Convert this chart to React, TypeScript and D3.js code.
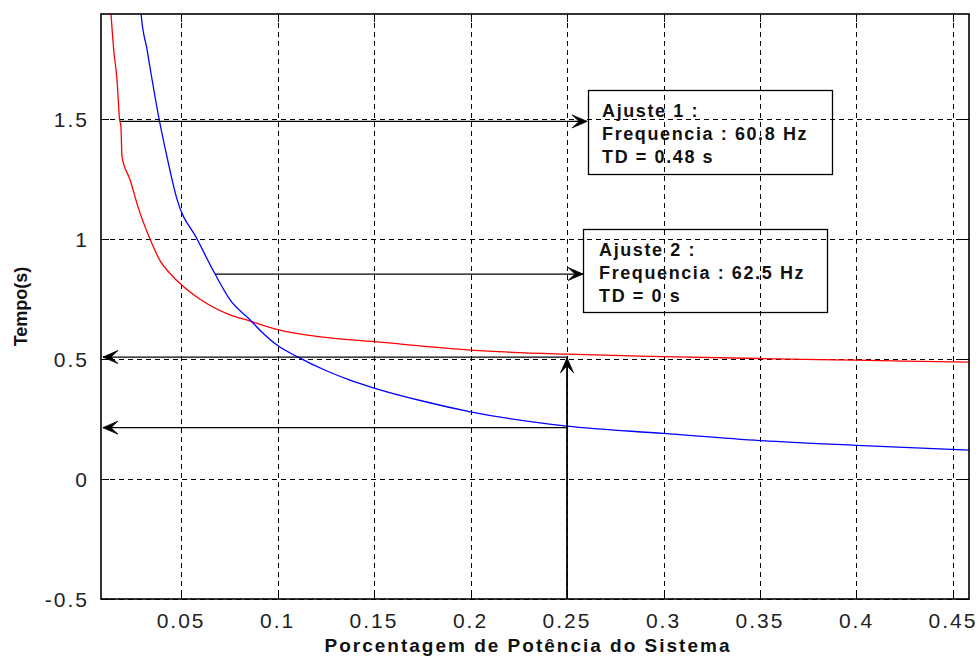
import React from "react";
import * as d3 from "d3";

// ---- data ----
const xTicks = [0.05, 0.1, 0.15, 0.2, 0.25, 0.3, 0.35, 0.4, 0.45];
const xTickLabels = ["0.05", "0.1", "0.15", "0.2", "0.25", "0.3", "0.35", "0.4", "0.45"];
const yTicks = [-0.5, 0, 0.5, 1, 1.5];
const yTickLabels = ["-0.5", "0", "0.5", "1", "1.5"];
const xLimits = [0.0085, 0.4583];
const yLimits = [-0.5, 1.9375];

// Ajuste 1 (red): Frequencia 60.8 Hz, TD = 0.48 s
const redX = [0.0132, 0.0137, 0.0151, 0.0168, 0.0181, 0.0188, 0.0194, 0.0236, 0.0277, 0.0339, 0.0391, 0.045, 0.05, 0.06, 0.075, 0.085, 0.1, 0.125, 0.15, 0.2, 0.25, 0.3, 0.35, 0.4, 0.4583];
const redY = [2.0, 1.9375, 1.7875, 1.6625, 1.5, 1.47, 1.342, 1.246, 1.133, 1.0, 0.91, 0.85, 0.81, 0.748, 0.685, 0.66, 0.622, 0.59, 0.572, 0.537, 0.52, 0.51, 0.502, 0.495, 0.487];

// Ajuste 2 (blue): Frequencia 62.5 Hz, TD = 0 s
const blueX = [0.0288, 0.0293, 0.0324, 0.035, 0.0386, 0.0427, 0.0479, 0.0583, 0.0676, 0.0754, 0.0858, 0.0909, 0.0997, 0.1106, 0.125, 0.1375, 0.15, 0.175, 0.2, 0.25, 0.3, 0.35, 0.4, 0.4583];
const blueY = [2.0, 1.9375, 1.7875, 1.6625, 1.5, 1.342, 1.165, 1.0, 0.854, 0.746, 0.6625, 0.62, 0.558, 0.508, 0.452, 0.412, 0.379, 0.325, 0.28, 0.22, 0.19, 0.16, 0.14, 0.12];

// annotation boxes (data coords: left, top, right, bottom)
const box1 = [0.2609, 1.621, 0.3873, 1.271];
const box1Lines = ["Ajuste 1 :", "Frequencia : 60.8 Hz", "TD = 0.48 s"];
const box2 = [0.2583, 1.0417, 0.3847, 0.696];
const box2Lines = ["Ajuste 2 :", "Frequencia : 62.5 Hz", "TD = 0 s"];

// arrows: [x1, y1, x2, y2] in data coords (head at x2,y2)
const arrows = [
  [0.0183, 1.49, 0.2604, 1.49],
  [0.0676, 0.854, 0.2583, 0.854],
  [0.25, -0.5, 0.25, 0.505],
  [0.25, 0.508, 0.0095, 0.508],
  [0.25, 0.214, 0.0095, 0.214],
];

const W = 980;
const H = 659;
const left = 101, right = 969, top = 14, bottom = 599;

export default function App() {
  const x = d3.scaleLinear().domain(xLimits).range([left, right]);
  const y = d3.scaleLinear().domain(yLimits).range([bottom, top]);

  const line = d3
    .line<[number, number]>()
    .x((d) => x(d[0]))
    .y((d) => y(d[1]))
    .curve(d3.curveMonotoneX);

  const redPts = redX.map((v, i) => [v, redY[i]] as [number, number]);
  const bluePts = blueX.map((v, i) => [v, blueY[i]] as [number, number]);

  const tickLen = 8;
  const tickFont = "Liberation Sans, Arial, sans-serif";
  const px = (v: number) => Math.round(v) + 0.5;

  const arrowHead = (x1: number, y1: number, x2: number, y2: number) => {
    const ang = Math.atan2(y2 - y1, x2 - x1);
    const L = 15, Wd = 6.5, N = 8;
    const pts = [
      [0, 0],
      [-L, -Wd],
      [-N, 0],
      [-L, Wd],
    ].map(([ppx, ppy]) => [
      x2 + ppx * Math.cos(ang) - ppy * Math.sin(ang),
      y2 + ppx * Math.sin(ang) + ppy * Math.cos(ang),
    ]);
    return "M" + pts.map((p) => p.join(",")).join("L") + "Z";
  };

  const renderBox = (b: number[], lines: string[], padX: number, key: string) => {
    const bx = x(b[0]), by = y(b[1]), bw = x(b[2]) - x(b[0]), bh = y(b[3]) - y(b[1]);
    return (
      <g key={key}>
        <rect x={px(bx)} y={px(by)} width={Math.round(bw)} height={Math.round(bh)} fill="none" stroke="#000" strokeWidth={1.3} />
        {lines.map((t, i) => (
          <text
            key={i}
            x={bx + padX}
            y={by + 27 + i * 23}
            fontFamily={tickFont}
            fontWeight="bold"
            fontSize={18}
            letterSpacing={1.6}
            fill="#111"
          >
            {t}
          </text>
        ))}
      </g>
    );
  };

  return (
    <svg
      width={W}
      height={H}
      style={{ position: "absolute", left: 0, top: 0, background: "#fff" }}
    >
      <defs>
        <clipPath id="plotClip">
          <rect x={left} y={top} width={right - left} height={bottom - top} />
        </clipPath>
      </defs>
      <rect x={0} y={0} width={W} height={H} fill="#fff" />

      {/* grid */}
      <g stroke="#000" strokeWidth={1} strokeDasharray="5,4" shapeRendering="crispEdges">
        {xTicks.map((t) => (
          <line key={"gx" + t} x1={px(x(t))} x2={px(x(t))} y1={top} y2={bottom} />
        ))}
        {yTicks.map((t) => (
          <line key={"gy" + t} x1={left} x2={right} y1={px(y(t))} y2={px(y(t))} />
        ))}
      </g>

      {/* ticks */}
      <g stroke="#000" strokeWidth={1.2} shapeRendering="crispEdges">
        {xTicks.map((t) => (
          <g key={"tx" + t}>
            <line x1={px(x(t))} x2={px(x(t))} y1={bottom} y2={bottom - tickLen} />
            <line x1={px(x(t))} x2={px(x(t))} y1={top} y2={top + tickLen} />
          </g>
        ))}
        {yTicks.map((t) => (
          <g key={"ty" + t}>
            <line x1={left} x2={left + tickLen} y1={px(y(t))} y2={px(y(t))} />
            <line x1={right} x2={right - tickLen} y1={px(y(t))} y2={px(y(t))} />
          </g>
        ))}
      </g>

      {/* curves */}
      <g clipPath="url(#plotClip)" fill="none" strokeWidth={1.3}>
        <path d={line(redPts) || ""} stroke="#ff0000" />
        <path d={line(bluePts) || ""} stroke="#0000ff" />
      </g>

      {/* arrows */}
      <g>
        {arrows.map((a, i) => {
          const x1 = x(a[0]), y1 = y(a[1]), x2 = x(a[2]), y2 = y(a[3]);
          return (
            <g key={"ar" + i}>
              <line x1={x1} y1={y1} x2={x2} y2={y2} stroke="#000" strokeWidth={i === 2 ? 1.8 : 1.2} />
              <path d={arrowHead(x1, y1, x2, y2)} fill="#000" stroke="#000" strokeWidth={0.8} />
            </g>
          );
        })}
      </g>

      {/* boxes */}
      {renderBox(box1, box1Lines, 14, "b1")}
      {renderBox(box2, box2Lines, 16, "b2")}

      {/* frame */}
      <rect x={left} y={top} width={right - left} height={bottom - top} fill="none" stroke="#000" strokeWidth={1.6} />

      {/* tick labels */}
      <g fontFamily={tickFont} fontSize={21} fill="#222" letterSpacing={2}>
        {xTicks.map((t, i) => (
          <text key={"lx" + t} x={x(t)} y={628} textAnchor="middle">
            {xTickLabels[i]}
          </text>
        ))}
        {yTicks.map((t, i) => (
          <text key={"ly" + t} x={89} y={y(t)} dy="0.36em" textAnchor="end">
            {yTickLabels[i]}
          </text>
        ))}
      </g>

      {/* axis labels */}
      <text
        x={528}
        y={652}
        textAnchor="middle"
        fontFamily={tickFont}
        fontWeight="bold"
        fontSize={19}
        letterSpacing={2}
        fill="#111"
      >
        Porcentagem de Potência do Sistema
      </text>
      <text
        transform={`translate(27, ${(top + bottom) / 2}) rotate(-90)`}
        textAnchor="middle"
        fontFamily={tickFont}
        fontWeight="bold"
        fontSize={18}
        fill="#111"
      >
        Tempo(s)
      </text>
    </svg>
  );
}
